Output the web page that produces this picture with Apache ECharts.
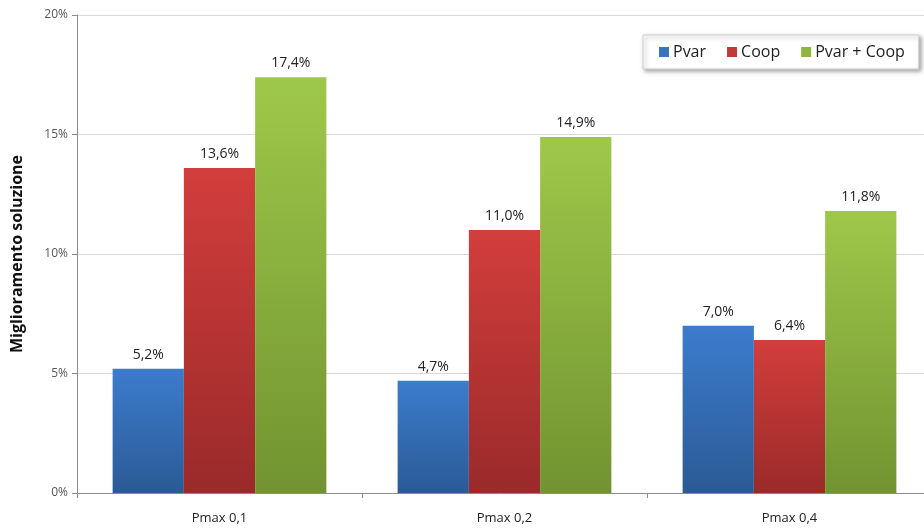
<!DOCTYPE html>
<html>
<head>
<meta charset="utf-8">
<script src="https://cdn.jsdelivr.net/npm/echarts@6/dist/echarts.min.js"></script>
<style>
  html, body { margin: 0; padding: 0; background: #fff; }
  #chart { width: 924px; height: 531px; }
</style>
</head>
<body>
<div id="chart"></div>
<script>
// Scenario categories along the x axis
const categories = ['Pmax 0,1', 'Pmax 0,2', 'Pmax 0,4'];
// Improvement of the solution, in percent
const pvar = [5.2, 4.7, 7.0];
const coop = [13.6, 11.0, 6.4];
const pvarCoop = [17.4, 14.9, 11.8];
const seriesNames = ['Pvar', 'Coop', 'Pvar + Coop'];
const yTicks = [0, 5, 10, 15, 20];

const FONT = '"Open Sans", "DejaVu Sans", sans-serif';

function grad(top, bottom) {
  return new echarts.graphic.LinearGradient(0, 0, 0, 1, [
    { offset: 0, color: top },
    { offset: 1, color: bottom }
  ]);
}

const fmtPct = v => v.toFixed(1).replace('.', ',') + '%';

const palette = [
  { top: '#3c7ccd', bottom: '#2b5a95', icon: '#3a74c0' },
  { top: '#d23e3c', bottom: '#9a2a2a', icon: '#c23a37' },
  { top: '#9ec84a', bottom: '#729331', icon: '#8db640' }
];

const dataSets = [pvar, coop, pvarCoop];

const chart = echarts.init(document.getElementById('chart'), null, { renderer: 'canvas' });

chart.setOption({
  animation: false,
  backgroundColor: '#ffffff',
  // the plot runs slightly past the right edge of the canvas
  grid: { left: 77, top: 15, bottom: 38, width: 855, containLabel: false, outerBoundsMode: 'none' },
  legend: {
    data: seriesNames.map((n, i) => ({ name: n, itemStyle: { color: palette[i].icon } })),
    left: 643,
    top: 35,
    padding: [9, 14, 9, 16],
    itemGap: 21,
    itemWidth: 10,
    itemHeight: 10,
    icon: 'rect',
    backgroundColor: '#ffffff',
    borderColor: '#d0d0d0',
    borderWidth: 1,
    shadowColor: 'rgba(0,0,0,0.35)',
    shadowBlur: 4,
    shadowOffsetX: 2,
    shadowOffsetY: 2,
    textStyle: { fontFamily: FONT, fontSize: 16, color: '#222', padding: [0, 0, 0, -1] }
  },
  xAxis: {
    type: 'category',
    data: categories,
    axisLine: { lineStyle: { color: '#8c8c8c', width: 1 } },
    axisTick: { show: true, length: 5, alignWithLabel: false, lineStyle: { color: '#8c8c8c' } },
    axisLabel: { fontFamily: FONT, fontSize: 13, color: '#222', margin: 19 }
  },
  yAxis: {
    type: 'value',
    min: yTicks[0],
    max: yTicks[yTicks.length - 1],
    interval: 5,
    name: 'Miglioramento soluzione',
    nameLocation: 'middle',
    nameGap: 52,
    nameRotate: 90,
    nameTextStyle: { fontFamily: FONT, fontSize: 16, fontWeight: 'bold', color: '#111' },
    axisLine: { show: true, lineStyle: { color: '#8c8c8c', width: 1 } },
    axisTick: { show: true, length: 5, lineStyle: { color: '#8c8c8c' } },
    axisLabel: { fontFamily: FONT, fontSize: 12, color: '#555', margin: 9, formatter: v => v + '%' },
    splitLine: { lineStyle: { color: '#d9d9d9', width: 1 } }
  },
  series: seriesNames.map((name, i) => ({
    name,
    type: 'bar',
    data: dataSets[i],
    barGap: '0%',
    barCategoryGap: '25%',
    itemStyle: { color: grad(palette[i].top, palette[i].bottom) },
    label: {
      show: true,
      position: 'top',
      distance: 7,
      fontFamily: FONT,
      fontSize: 14,
      color: '#222',
      formatter: p => fmtPct(p.value)
    }
  }))
});
</script>
</body>
</html>
